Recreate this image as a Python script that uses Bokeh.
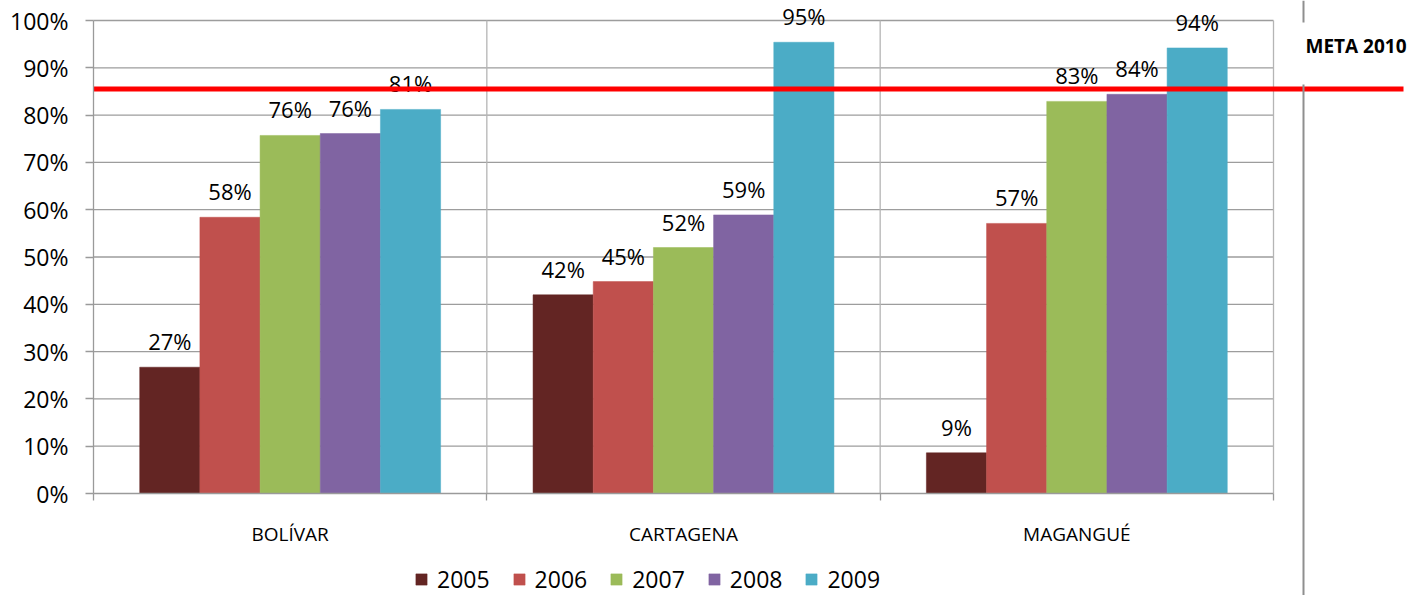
from bokeh.plotting import figure
from bokeh.models import Range1d, LinearAxis, FixedTicker, NumeralTickFormatter, Legend, LegendItem
from bokeh.core.properties import value
from bokeh.embed import file_html
from bokeh.resources import INLINE

# ---- data ----
categories = ["BOLÍVAR", "CARTAGENA", "MAGANGUÉ"]
years = ["2005", "2006", "2007", "2008", "2009"]
v2005 = [0.267, 0.420, 0.086]
v2006 = [0.584, 0.448, 0.571]
v2007 = [0.757, 0.520, 0.829]
v2008 = [0.761, 0.589, 0.844]
v2009 = [0.812, 0.954, 0.942]
series = [v2005, v2006, v2007, v2008, v2009]
colors = ["#632523", "#C0504D", "#9BBB59", "#8064A2", "#4BACC6"]
meta_value = 0.855
meta_label = "META 2010"
y_ticks = [0.0, 0.1, 0.2, 0.3, 0.4, 0.5, 0.6, 0.7, 0.8, 0.9, 1.0]

# ---- layout (pixels inside the figure) ----
W, H = 1409, 595
FL, FR, FT, FB = 93, 1273, 20, 493
n = len(categories)
ux = (FR - FL) / n
uy = (FB - FT) / 1.0
BAR_W = 0.153
FONT = value("Open Sans")

def px_x(px):
    return (px - FL) / ux

def px_y(py):
    return (FB - py) / uy

p = figure(width=W, height=H, output_backend="svg", toolbar_location=None,
           x_range=Range1d(px_x(0), px_x(W)), y_range=Range1d(px_y(H), px_y(0)),
           x_axis_location=None, y_axis_location=None, min_border=0,
           outline_line_color=None)
p.grid.visible = False
p.background_fill_color = "white"

# gridlines
gy = y_ticks[1:]
p.segment(x0=[0] * len(gy), y0=gy, x1=[n] * len(gy), y1=gy,
          line_color="#9d9d9d", line_width=1.3)
gx = list(range(1, n + 1))
p.segment(x0=gx, y0=[0] * len(gx), x1=gx, y1=[1] * len(gx),
          line_color="#b5b5b5", line_width=1.3)

# bars and labels
items = []
for j, (yr, vals, col) in enumerate(zip(years, series, colors)):
    xs = [i + 0.5 + (j - 2) * BAR_W for i in range(n)]
    r = p.vbar(x=xs, top=vals, width=BAR_W, fill_color=col, line_color=col, line_width=0.5)
    items.append(LegendItem(label=yr, renderers=[r]))
    p.text(x=xs, y=[v + 26 / uy for v in vals], text=[f"{round(v * 100)}%" for v in vals],
           text_font=FONT, text_font_size="22px", text_align="center",
           text_baseline="alphabetic", text_color="#000000")

# meta line
p.segment(x0=[0], y0=[meta_value], x1=[px_x(1403)], y1=[meta_value],
          line_color="#FF0000", line_width=5)

# separator line
sx = px_x(1303)
p.segment(x0=[sx, sx], y0=[px_y(0), px_y(84)], x1=[sx, sx], y1=[px_y(22), px_y(H)],
          line_color="#8f8f8f", line_width=2)
p.text(x=[px_x(1305)], y=[px_y(45)], text=[meta_label], text_font=FONT,
       text_font_style="bold", text_font_size="19px", text_align="left",
       text_baseline="alphabetic", text_color="#000000")

# axes
yaxis = LinearAxis(fixed_location=0, bounds=(0, 1), ticker=FixedTicker(ticks=y_ticks),
                   formatter=NumeralTickFormatter(format="0%"))
yaxis.major_tick_out = 8
yaxis.major_tick_in = 0
yaxis.minor_tick_out = 0
yaxis.minor_tick_in = 0
yaxis.axis_line_color = "#9a9a9a"
yaxis.axis_line_width = 1.3
yaxis.major_tick_line_color = "#9a9a9a"
yaxis.major_tick_line_width = 1.3
yaxis.major_label_text_font = "Open Sans"
yaxis.major_label_text_font_size = "23px"
yaxis.major_label_text_color = "#000000"
yaxis.major_label_standoff = 17
p.add_layout(yaxis, "left")

xaxis = LinearAxis(fixed_location=0, bounds=(0, n),
                   ticker=FixedTicker(ticks=[i + 0.5 for i in range(n)],
                                      minor_ticks=list(range(n + 1))),
                   major_label_overrides={i + 0.5: c for i, c in enumerate(categories)})
xaxis.major_tick_line_color = None
xaxis.major_tick_out = 0
xaxis.major_tick_in = 0
xaxis.minor_tick_out = 7
xaxis.minor_tick_in = 0
xaxis.minor_tick_line_color = "#9a9a9a"
xaxis.minor_tick_line_width = 1.3
xaxis.axis_line_color = "#9a9a9a"
xaxis.axis_line_width = 1.3
xaxis.major_label_text_font = "Open Sans"
xaxis.major_label_text_font_size = "19px"
xaxis.major_label_text_color = "#000000"
xaxis.major_label_standoff = 20
p.add_layout(xaxis, "below")

legend = Legend(items=items, orientation="horizontal", location=(414, 0),
                glyph_width=14, glyph_height=14, label_standoff=9, spacing=22,
                padding=0, margin=0, border_line_color=None, background_fill_alpha=0,
                label_text_font="Open Sans", label_text_font_size="23px",
                label_text_color="#000000")
p.add_layout(legend)

open("out.html", "w").write(file_html(p, INLINE))
